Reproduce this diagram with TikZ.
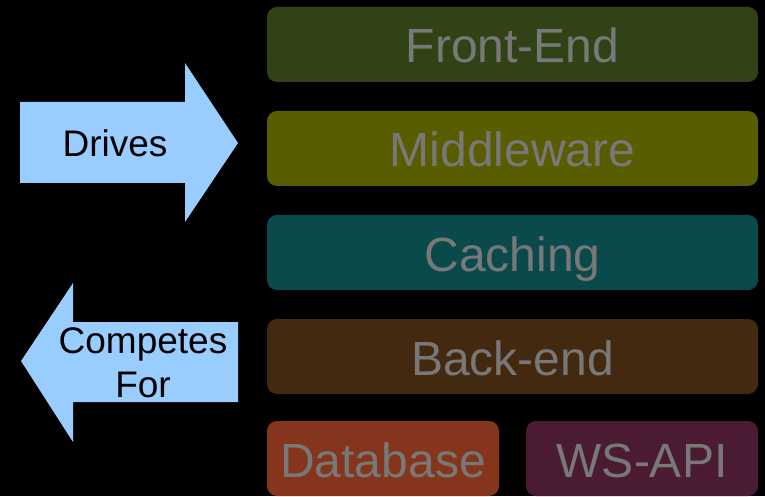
\documentclass[tikz,border=0pt]{standalone}
\usepackage{fontspec}
\setmainfont{Liberation Sans}
\usepackage{tikz}
\usetikzlibrary{positioning}
\definecolor{frontcol}{HTML}{314316}
\definecolor{middlecol}{HTML}{5A5C00}
\definecolor{cachecol}{HTML}{0B4A4A}
\definecolor{backcol}{HTML}{43290F}
\definecolor{dbcol}{HTML}{84351B}
\definecolor{apicol}{HTML}{4A1B33}
\definecolor{arrowcol}{HTML}{99CCFF}
\definecolor{labelcol}{HTML}{787878}

\begin{document}
\begin{tikzpicture}[
		x=1pt, y=1pt,
		layer/.style={rounded corners=10pt, minimum height=75pt, inner sep=0pt,
			text=labelcol, font=\fontsize{48}{58}\selectfont,
			text height=37pt, text depth=0pt},
		widelayer/.style={layer, minimum width=491pt},
		halflayer/.style={layer, minimum width=232pt},
		bigarrow/.style={fill=arrowcol},
		arrowtext/.style={font=\fontsize{37}{44}\selectfont, align=center, text=black}
		]
		
		% Le fond
		\fill[black] (0,0) rectangle (765,496);
		\useasboundingbox (0,0) rectangle (765,496);
		
		% Les couches
		\node[widelayer, fill=frontcol] (front) at (512.5, 451.5) {Front-End};
		\node[widelayer, fill=middlecol] (middle) at (512.5, 347.5) {Middleware};
		\node[widelayer, fill=cachecol] (cache) at (512.5, 243.5) {Caching};
		\node[widelayer, fill=backcol] (back) at (512.5, 139.5) {Back-end};
		\node[halflayer, fill=dbcol] (db) at (383, 37.5) {Database};
		\node[halflayer, fill=apicol] (api) at (642, 37.5) {WS-API};
		
		% Les fleches
		\fill[bigarrow] (20,394) -- (185,394) -- (185,433) -- (238,353)
			-- (185,274) -- (185,313) -- (20,313) -- cycle;
		\fill[bigarrow] (238,174) -- (73,174) -- (73,213) -- (21,135)
			-- (73,54) -- (73,94) -- (238,94) -- cycle;
		\node[arrowtext] (drives) at (115, 353) {Drives};
		\node[arrowtext] (competes) at (143, 133.5) {Competes\\For};
	\end{tikzpicture}
\end{document}
